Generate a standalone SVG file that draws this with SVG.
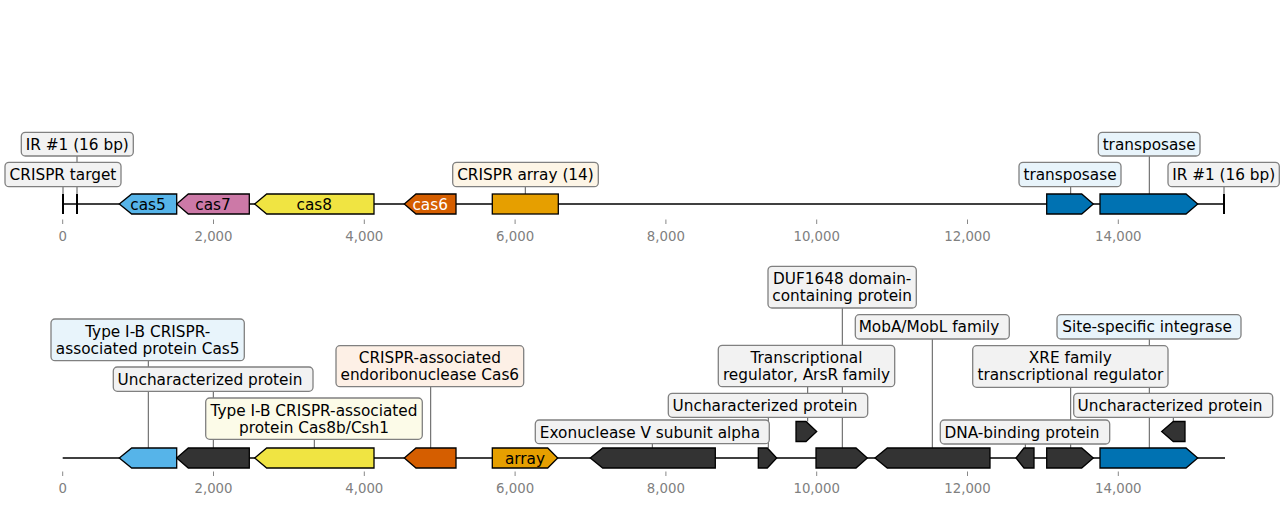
<svg xmlns="http://www.w3.org/2000/svg" width="1285" height="505" viewBox="0 0 1285 505">
<style>
.bb{fill:none;stroke:#000;stroke-width:1.7}
.end{stroke:#000;stroke-width:2}
.tk{stroke:#888;stroke-width:1}
.tl{font-family:"DejaVu Sans",sans-serif;font-size:13.3px;fill:#808080;text-anchor:middle}
.ld{stroke:#444;stroke-width:0.9}
.box{stroke:#808080;stroke-width:1.3}
.g{fill:#f2f2f2}.lb{fill:#e8f4fb}.cr{fill:#fdf5e6}.ly{fill:#fcfbe8}.lo{fill:#fdf0e6}
.bt{font-family:"DejaVu Sans",sans-serif;font-size:15.3px;fill:#000;text-anchor:middle}
.ft{stroke:#000;stroke-width:1.3}
.ftt{font-family:"DejaVu Sans",sans-serif;font-size:15.3px;text-anchor:middle}
</style>
<rect width="1285" height="505" fill="#fff"/>
<g id="axis-top">
<line class="bb" x1="62.7" y1="204" x2="1224" y2="204"/>
<line class="tk" x1="62.7" y1="219.5" x2="62.7" y2="224"/><text class="tl" x="62.7" y="241">0</text>
<line class="tk" x1="213.5" y1="219.5" x2="213.5" y2="224"/><text class="tl" x="213.5" y="241">2,000</text>
<line class="tk" x1="364.3" y1="219.5" x2="364.3" y2="224"/><text class="tl" x="364.3" y="241">4,000</text>
<line class="tk" x1="515.1" y1="219.5" x2="515.1" y2="224"/><text class="tl" x="515.1" y="241">6,000</text>
<line class="tk" x1="665.9" y1="219.5" x2="665.9" y2="224"/><text class="tl" x="665.9" y="241">8,000</text>
<line class="tk" x1="816.7" y1="219.5" x2="816.7" y2="224"/><text class="tl" x="816.7" y="241">10,000</text>
<line class="tk" x1="967.5" y1="219.5" x2="967.5" y2="224"/><text class="tl" x="967.5" y="241">12,000</text>
<line class="tk" x1="1118.3" y1="219.5" x2="1118.3" y2="224"/><text class="tl" x="1118.3" y="241">14,000</text>
</g>
<g id="axis-bottom">
<line class="bb" x1="62.7" y1="458" x2="1225" y2="458"/>
<line class="tk" x1="62.7" y1="471.5" x2="62.7" y2="476"/><text class="tl" x="62.7" y="493">0</text>
<line class="tk" x1="213.5" y1="471.5" x2="213.5" y2="476"/><text class="tl" x="213.5" y="493">2,000</text>
<line class="tk" x1="364.3" y1="471.5" x2="364.3" y2="476"/><text class="tl" x="364.3" y="493">4,000</text>
<line class="tk" x1="515.1" y1="471.5" x2="515.1" y2="476"/><text class="tl" x="515.1" y="493">6,000</text>
<line class="tk" x1="665.9" y1="471.5" x2="665.9" y2="476"/><text class="tl" x="665.9" y="493">8,000</text>
<line class="tk" x1="816.7" y1="471.5" x2="816.7" y2="476"/><text class="tl" x="816.7" y="493">10,000</text>
<line class="tk" x1="967.5" y1="471.5" x2="967.5" y2="476"/><text class="tl" x="967.5" y="493">12,000</text>
<line class="tk" x1="1118.3" y1="471.5" x2="1118.3" y2="476"/><text class="tl" x="1118.3" y="493">14,000</text>
</g>
<g id="connectors">
<line class="ld" x1="63" y1="186" x2="63" y2="194"/>
<line class="ld" x1="77" y1="156" x2="77" y2="194"/>
<line class="ld" x1="525.3" y1="186" x2="525.3" y2="194"/>
<line class="ld" x1="1070.7" y1="186" x2="1070.7" y2="194"/>
<line class="ld" x1="1149.3" y1="156" x2="1149.3" y2="194"/>
<line class="ld" x1="1224" y1="186" x2="1224" y2="194"/>
<line class="ld" x1="148.3" y1="360" x2="148.3" y2="448"/>
<line class="ld" x1="213.3" y1="391" x2="213.3" y2="448"/>
<line class="ld" x1="314.3" y1="439" x2="314.3" y2="448"/>
<line class="ld" x1="430.7" y1="386" x2="430.7" y2="448"/>
<line class="ld" x1="652.3" y1="443" x2="652.3" y2="448"/>
<line class="ld" x1="768.3" y1="417" x2="768.3" y2="448"/>
<line class="ld" x1="807.7" y1="386" x2="807.7" y2="421.5"/>
<line class="ld" x1="842.3" y1="308" x2="842.3" y2="448"/>
<line class="ld" x1="932.3" y1="339" x2="932.3" y2="448"/>
<line class="ld" x1="1025.3" y1="444" x2="1025.3" y2="448"/>
<line class="ld" x1="1070.7" y1="387" x2="1070.7" y2="448"/>
<line class="ld" x1="1149.3" y1="339" x2="1149.3" y2="448"/>
<line class="ld" x1="1173.3" y1="417" x2="1173.3" y2="421.5"/>
</g>
<g id="crispr-target"><line class="end" x1="63" y1="194" x2="63" y2="214"/></g>
<g id="ir-left"><line class="end" x1="77" y1="194" x2="77" y2="214"/></g>
<g id="ir-right"><line class="end" x1="1224" y1="194" x2="1224" y2="214"/></g>
<g id="top-cas5"><path class="ft" fill="#56B4E9" d="M119.3,204 L131.7,194 L176.7,194 L176.7,214 L131.7,214 Z"/><text class="ftt" x="148" y="209.5" fill="#000">cas5</text></g>
<g id="top-cas7"><path class="ft" fill="#CC79A7" d="M176.7,204 L188.3,194 L249.3,194 L249.3,214 L188.3,214 Z"/><text class="ftt" x="213" y="209.5" fill="#000">cas7</text></g>
<g id="top-cas8"><path class="ft" fill="#F0E442" d="M254.7,204 L266.7,194 L374,194 L374,214 L266.7,214 Z"/><text class="ftt" x="314.3" y="209.5" fill="#000">cas8</text></g>
<g id="top-cas6"><path class="ft" fill="#D55E00" d="M404.3,204 L416,194 L456,194 L456,214 L416,214 Z"/><text class="ftt" x="430.2" y="209.5" fill="#fff">cas6</text></g>
<g id="top-array"><rect class="ft" fill="#E69F00" x="492.3" y="194" width="66" height="20"/></g>
<g id="top-transposase1"><path class="ft" fill="#0072B2" d="M1046.7,194 L1081.7,194 L1093.3,204 L1081.7,214 L1046.7,214 Z"/></g>
<g id="top-transposase2"><path class="ft" fill="#0072B2" d="M1100,194 L1186,194 L1197.7,204 L1186,214 L1100,214 Z"/></g>
<g id="lbl-ir1"><rect class="box g" x="21.3" y="132.3" width="112" height="23.7" rx="4"/><text class="bt" x="77.3" y="150">IR #1 (16 bp)</text></g>
<g id="lbl-crispr-target"><rect class="box g" x="5" y="162.3" width="116" height="24.4" rx="4"/><text class="bt" x="63" y="180">CRISPR target</text></g>
<g id="lbl-crispr-array"><rect class="box cr" x="452.7" y="162.3" width="145.6" height="24.4" rx="4"/><text class="bt" x="525.5" y="180">CRISPR array (14)</text></g>
<g id="lbl-transposase1"><rect class="box lb" x="1019" y="162.3" width="102" height="24.4" rx="4"/><text class="bt" x="1070" y="180">transposase</text></g>
<g id="lbl-transposase2"><rect class="box lb" x="1098.3" y="132.3" width="101.7" height="23.7" rx="4"/><text class="bt" x="1149.2" y="150">transposase</text></g>
<g id="lbl-ir-right"><rect class="box g" x="1168" y="162.3" width="111.3" height="24.4" rx="4"/><text class="bt" x="1223.7" y="180">IR #1 (16 bp)</text></g>
<g id="bot-cas5"><path class="ft" fill="#56B4E9" d="M119.3,458 L131.7,448 L176.7,448 L176.7,468 L131.7,468 Z"/></g>
<g id="bot-unk1"><path class="ft" fill="#333333" d="M176.7,458 L188.3,448 L249.3,448 L249.3,468 L188.3,468 Z"/></g>
<g id="bot-cas8"><path class="ft" fill="#F0E442" d="M254.7,458 L266.7,448 L374,448 L374,468 L266.7,468 Z"/></g>
<g id="bot-cas6"><path class="ft" fill="#D55E00" d="M404.3,458 L416,448 L456,448 L456,468 L416,468 Z"/></g>
<g id="bot-array"><path class="ft" fill="#E69F00" d="M492.3,448 L547.7,448 L557.7,458 L547.7,468 L492.3,468 Z"/><text class="ftt" x="525" y="463.5" fill="#000">array</text></g>
<g id="bot-exo"><path class="ft" fill="#333333" d="M590.3,458 L602.7,448 L715.3,448 L715.3,468 L602.7,468 Z"/></g>
<g id="bot-unk2"><path class="ft" fill="#333333" d="M758.3,448 L767.3,448 L776.7,458 L767.3,468 L758.3,468 Z"/></g>
<g id="bot-arsr"><path class="ft" fill="#333333" d="M796,421.5 L806,421.5 L816.7,431.5 L806,441.5 L796,441.5 Z"/></g>
<g id="bot-duf"><path class="ft" fill="#333333" d="M816,448 L856,448 L867.3,458 L856,468 L816,468 Z"/></g>
<g id="bot-moba"><path class="ft" fill="#333333" d="M875,458 L887.3,448 L990,448 L990,468 L887.3,468 Z"/></g>
<g id="bot-dnab"><path class="ft" fill="#333333" d="M1016,458 L1024,448 L1034,448 L1034,468 L1024,468 Z"/></g>
<g id="bot-xre"><path class="ft" fill="#333333" d="M1046.7,448 L1081.7,448 L1093.3,458 L1081.7,468 L1046.7,468 Z"/></g>
<g id="bot-integrase"><path class="ft" fill="#0072B2" d="M1100,448 L1186,448 L1197.7,458 L1186,468 L1100,468 Z"/></g>
<g id="bot-unk3"><path class="ft" fill="#333333" d="M1161.7,431.5 L1173.3,421.5 L1185,421.5 L1185,441.5 L1173.3,441.5 Z"/></g>
<g id="lbl-cas5"><rect class="box lb" x="51" y="319" width="193.3" height="41.7" rx="4"/><text class="bt" x="147.7" y="337"><tspan x="147.7">Type I-B CRISPR-</tspan><tspan x="147.7" dy="17">associated protein Cas5</tspan></text></g>
<g id="lbl-unk1"><rect class="box g" x="113.3" y="367" width="199.7" height="24.3" rx="4"/><text class="bt" x="210" y="384.7">Uncharacterized protein</text></g>
<g id="lbl-cas8"><rect class="box ly" x="205.7" y="398" width="216.6" height="41.3" rx="4"/><text class="bt" x="314" y="415.8"><tspan x="314">Type I-B CRISPR-associated</tspan><tspan x="314" dy="17">protein Cas8b/Csh1</tspan></text></g>
<g id="lbl-cas6"><rect class="box lo" x="336" y="345.7" width="187.7" height="41" rx="4"/><text class="bt" x="429.8" y="363.4"><tspan x="429.8">CRISPR-associated</tspan><tspan x="429.8" dy="17">endoribonuclease Cas6</tspan></text></g>
<g id="lbl-exo"><rect class="box g" x="535.3" y="420" width="234" height="23.7" rx="4"/><text class="bt" x="650" y="437.5">Exonuclease V subunit alpha</text></g>
<g id="lbl-unk2"><rect class="box g" x="668.3" y="393.3" width="199.4" height="24" rx="4"/><text class="bt" x="765" y="411">Uncharacterized protein</text></g>
<g id="lbl-arsr"><rect class="box g" x="718.3" y="345.3" width="176.4" height="41.4" rx="4"/><text class="bt" x="806.5" y="363"><tspan x="806.5">Transcriptional</tspan><tspan x="806.5" dy="17">regulator, ArsR family</tspan></text></g>
<g id="lbl-duf"><rect class="box g" x="768" y="266.3" width="148.3" height="41.7" rx="4"/><text class="bt" x="842.2" y="284"><tspan x="842.2">DUF1648 domain-</tspan><tspan x="842.2" dy="17">containing protein</tspan></text></g>
<g id="lbl-moba"><rect class="box g" x="855.3" y="314.7" width="154" height="24.3" rx="4"/><text class="bt" x="929" y="332.4">MobA/MobL family</text></g>
<g id="lbl-dnab"><rect class="box g" x="940.3" y="420" width="169.4" height="24" rx="4"/><text class="bt" x="1022" y="437.6">DNA-binding protein</text></g>
<g id="lbl-xre"><rect class="box g" x="972.7" y="345.7" width="195.3" height="41.6" rx="4"/><text class="bt" x="1070.3" y="363.4"><tspan x="1070.3">XRE family</tspan><tspan x="1070.3" dy="17">transcriptional regulator</tspan></text></g>
<g id="lbl-integrase"><rect class="box lb" x="1057" y="314.7" width="184" height="24.3" rx="4"/><text class="bt" x="1147" y="332.4">Site-specific integrase</text></g>
<g id="lbl-unk3"><rect class="box g" x="1073.7" y="393.3" width="199" height="24" rx="4"/><text class="bt" x="1170" y="411">Uncharacterized protein</text></g>
</svg>
